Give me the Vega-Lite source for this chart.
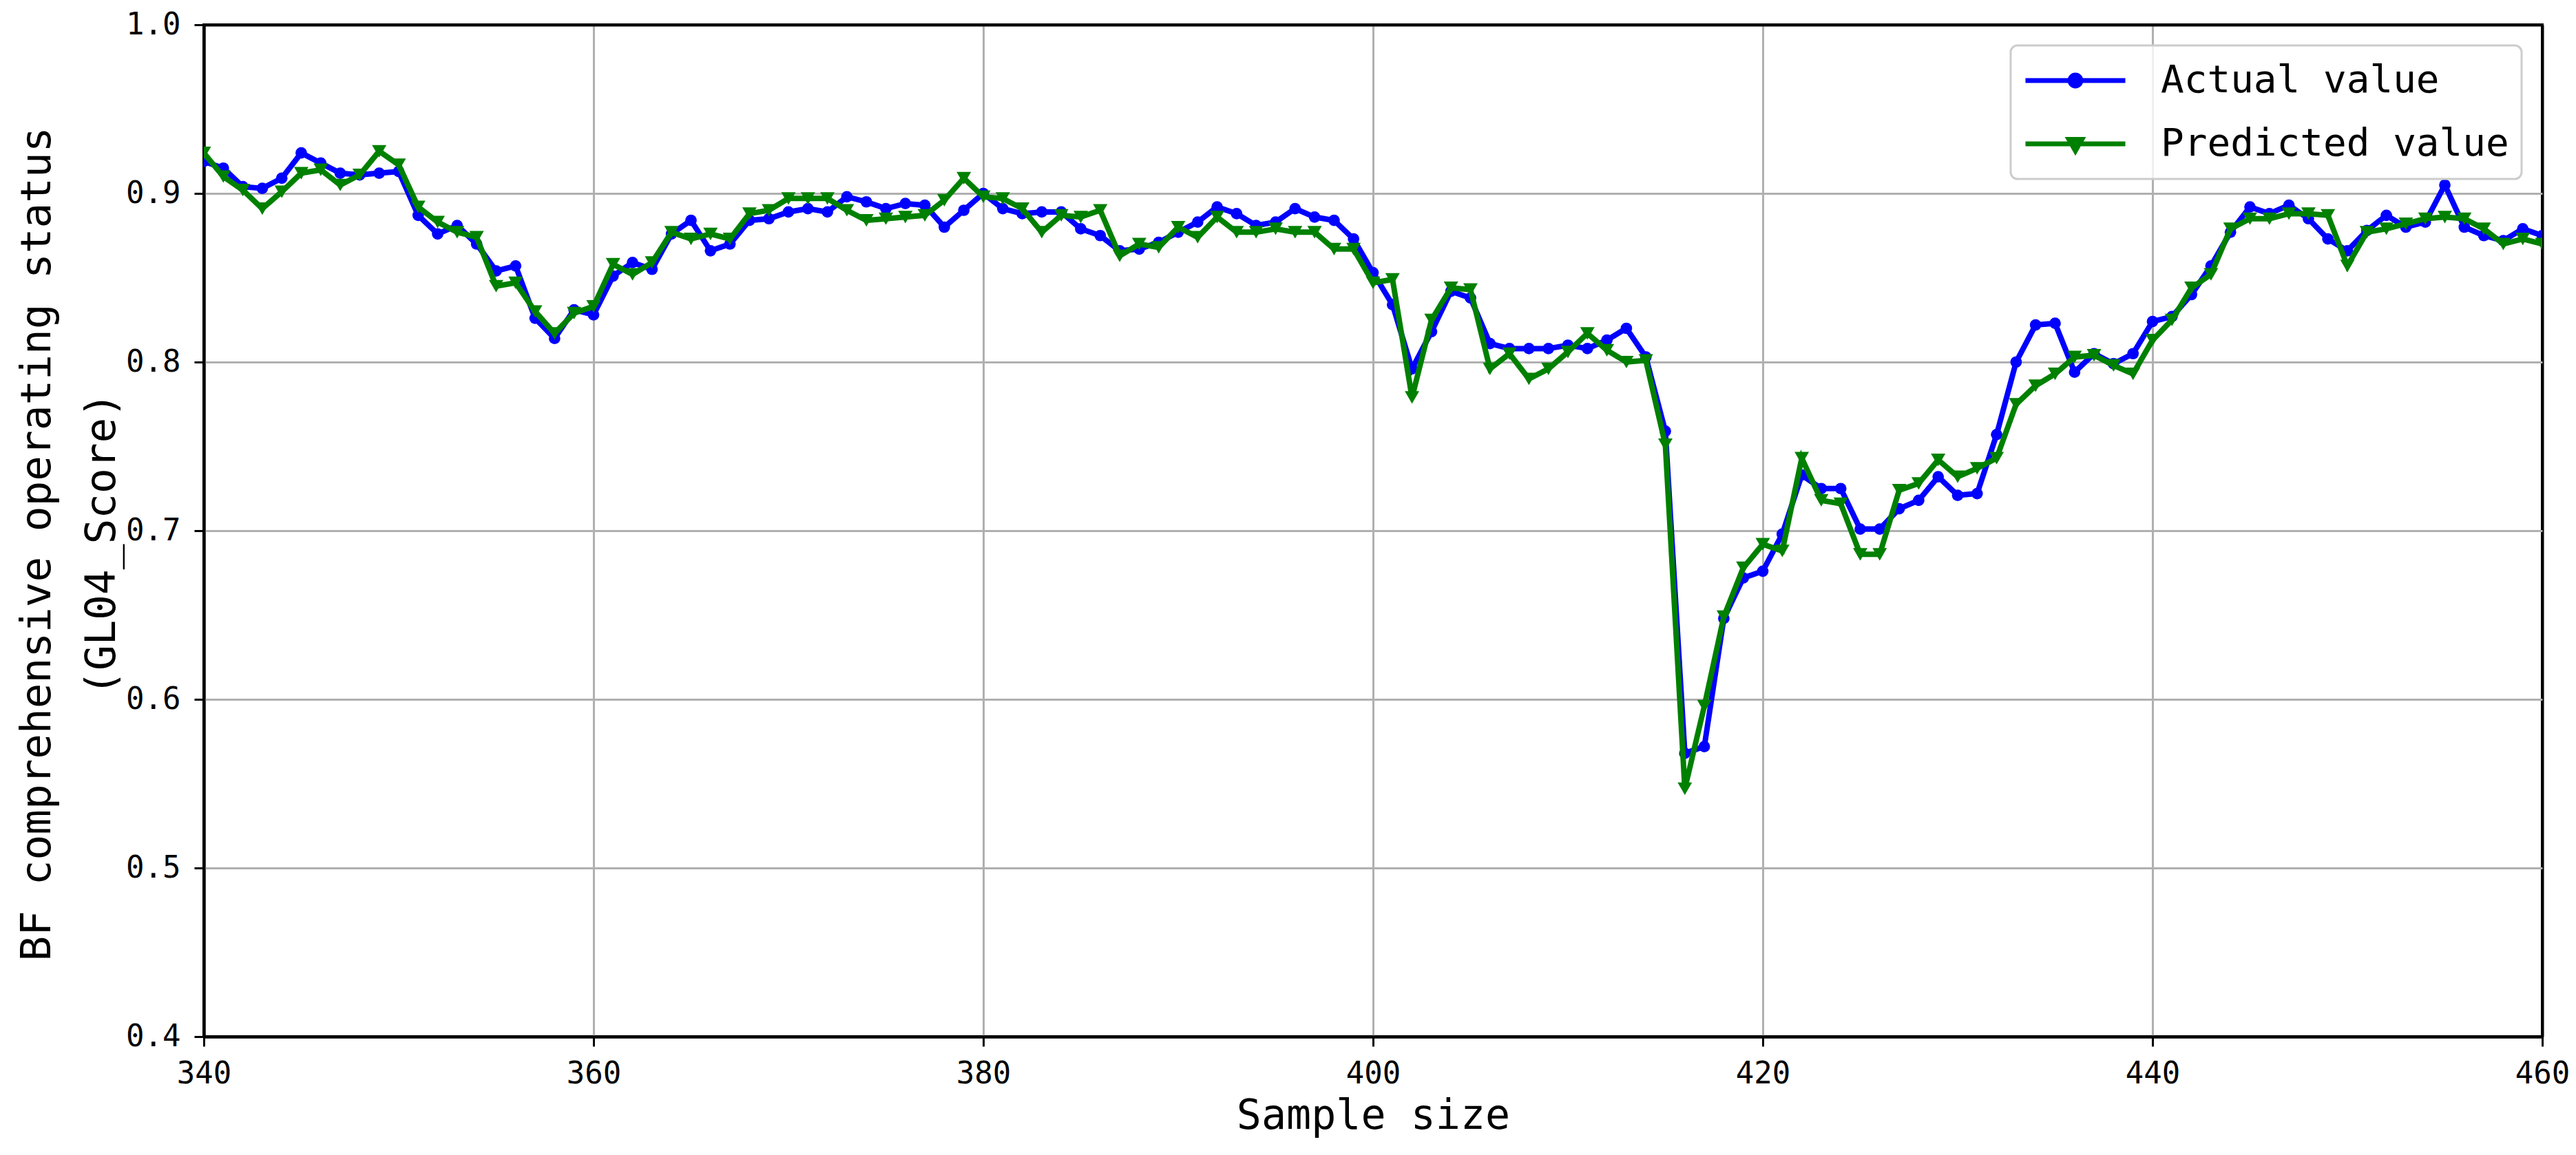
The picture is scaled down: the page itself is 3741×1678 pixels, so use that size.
{
  "$schema": "https://vega.github.io/schema/vega-lite/v6.json",
  "autosize": "none",
  "width": 3396,
  "height": 1470,
  "padding": {"left": 296, "top": 36, "right": 49, "bottom": 172},
  "background": "white",
  "config": {
    "view": {"stroke": "black", "strokeWidth": 4},
    "axis": {
      "domainColor": "black", "domainWidth": 4,
      "tickColor": "black", "tickWidth": 3, "tickSize": 14,
      "gridColor": "#b0b0b0", "gridWidth": 3, "gridOpacity": 1,
      "labelFont": "DejaVu Sans Mono", "labelFontSize": 44, "labelColor": "black",
      "titleFont": "DejaVu Sans Mono", "titleFontSize": 60, "titleFontWeight": "normal", "titleColor": "black"
    },
    "legend": {
      "fillColor": "rgba(255,255,255,0.8)", "strokeColor": "#cccccc", "strokeWidth": 3, "cornerRadius": 10, "padding": 18
    }
  },
  "data": {"values": [
    {"n":340,"s":"Actual value","v":0.919},{"n":341,"s":"Actual value","v":0.915},{"n":342,"s":"Actual value","v":0.904},{"n":343,"s":"Actual value","v":0.903},{"n":344,"s":"Actual value","v":0.909},{"n":345,"s":"Actual value","v":0.924},{"n":346,"s":"Actual value","v":0.918},{"n":347,"s":"Actual value","v":0.912},{"n":348,"s":"Actual value","v":0.911},{"n":349,"s":"Actual value","v":0.912},
    {"n":350,"s":"Actual value","v":0.913},{"n":351,"s":"Actual value","v":0.887},{"n":352,"s":"Actual value","v":0.876},{"n":353,"s":"Actual value","v":0.881},{"n":354,"s":"Actual value","v":0.870},{"n":355,"s":"Actual value","v":0.854},{"n":356,"s":"Actual value","v":0.857},{"n":357,"s":"Actual value","v":0.826},{"n":358,"s":"Actual value","v":0.814},{"n":359,"s":"Actual value","v":0.831},
    {"n":360,"s":"Actual value","v":0.828},{"n":361,"s":"Actual value","v":0.851},{"n":362,"s":"Actual value","v":0.859},{"n":363,"s":"Actual value","v":0.855},{"n":364,"s":"Actual value","v":0.876},{"n":365,"s":"Actual value","v":0.884},{"n":366,"s":"Actual value","v":0.866},{"n":367,"s":"Actual value","v":0.870},{"n":368,"s":"Actual value","v":0.884},{"n":369,"s":"Actual value","v":0.885},
    {"n":370,"s":"Actual value","v":0.889},{"n":371,"s":"Actual value","v":0.891},{"n":372,"s":"Actual value","v":0.889},{"n":373,"s":"Actual value","v":0.898},{"n":374,"s":"Actual value","v":0.895},{"n":375,"s":"Actual value","v":0.891},{"n":376,"s":"Actual value","v":0.894},{"n":377,"s":"Actual value","v":0.893},{"n":378,"s":"Actual value","v":0.880},{"n":379,"s":"Actual value","v":0.890},
    {"n":380,"s":"Actual value","v":0.900},{"n":381,"s":"Actual value","v":0.891},{"n":382,"s":"Actual value","v":0.888},{"n":383,"s":"Actual value","v":0.889},{"n":384,"s":"Actual value","v":0.889},{"n":385,"s":"Actual value","v":0.879},{"n":386,"s":"Actual value","v":0.875},{"n":387,"s":"Actual value","v":0.866},{"n":388,"s":"Actual value","v":0.867},{"n":389,"s":"Actual value","v":0.871},
    {"n":390,"s":"Actual value","v":0.877},{"n":391,"s":"Actual value","v":0.883},{"n":392,"s":"Actual value","v":0.892},{"n":393,"s":"Actual value","v":0.888},{"n":394,"s":"Actual value","v":0.881},{"n":395,"s":"Actual value","v":0.883},{"n":396,"s":"Actual value","v":0.891},{"n":397,"s":"Actual value","v":0.886},{"n":398,"s":"Actual value","v":0.884},{"n":399,"s":"Actual value","v":0.873},
    {"n":400,"s":"Actual value","v":0.853},{"n":401,"s":"Actual value","v":0.834},{"n":402,"s":"Actual value","v":0.796},{"n":403,"s":"Actual value","v":0.818},{"n":404,"s":"Actual value","v":0.842},{"n":405,"s":"Actual value","v":0.838},{"n":406,"s":"Actual value","v":0.811},{"n":407,"s":"Actual value","v":0.808},{"n":408,"s":"Actual value","v":0.808},{"n":409,"s":"Actual value","v":0.808},
    {"n":410,"s":"Actual value","v":0.810},{"n":411,"s":"Actual value","v":0.808},{"n":412,"s":"Actual value","v":0.813},{"n":413,"s":"Actual value","v":0.820},{"n":414,"s":"Actual value","v":0.803},{"n":415,"s":"Actual value","v":0.759},{"n":416,"s":"Actual value","v":0.568},{"n":417,"s":"Actual value","v":0.572},{"n":418,"s":"Actual value","v":0.648},{"n":419,"s":"Actual value","v":0.672},
    {"n":420,"s":"Actual value","v":0.676},{"n":421,"s":"Actual value","v":0.698},{"n":422,"s":"Actual value","v":0.733},{"n":423,"s":"Actual value","v":0.725},{"n":424,"s":"Actual value","v":0.725},{"n":425,"s":"Actual value","v":0.701},{"n":426,"s":"Actual value","v":0.701},{"n":427,"s":"Actual value","v":0.713},{"n":428,"s":"Actual value","v":0.718},{"n":429,"s":"Actual value","v":0.732},
    {"n":430,"s":"Actual value","v":0.721},{"n":431,"s":"Actual value","v":0.722},{"n":432,"s":"Actual value","v":0.757},{"n":433,"s":"Actual value","v":0.800},{"n":434,"s":"Actual value","v":0.822},{"n":435,"s":"Actual value","v":0.823},{"n":436,"s":"Actual value","v":0.794},{"n":437,"s":"Actual value","v":0.805},{"n":438,"s":"Actual value","v":0.799},{"n":439,"s":"Actual value","v":0.805},
    {"n":440,"s":"Actual value","v":0.824},{"n":441,"s":"Actual value","v":0.827},{"n":442,"s":"Actual value","v":0.840},{"n":443,"s":"Actual value","v":0.857},{"n":444,"s":"Actual value","v":0.877},{"n":445,"s":"Actual value","v":0.892},{"n":446,"s":"Actual value","v":0.888},{"n":447,"s":"Actual value","v":0.893},{"n":448,"s":"Actual value","v":0.885},{"n":449,"s":"Actual value","v":0.873},
    {"n":450,"s":"Actual value","v":0.866},{"n":451,"s":"Actual value","v":0.878},{"n":452,"s":"Actual value","v":0.887},{"n":453,"s":"Actual value","v":0.880},{"n":454,"s":"Actual value","v":0.883},{"n":455,"s":"Actual value","v":0.905},{"n":456,"s":"Actual value","v":0.880},{"n":457,"s":"Actual value","v":0.875},{"n":458,"s":"Actual value","v":0.872},{"n":459,"s":"Actual value","v":0.879},
    {"n":460,"s":"Actual value","v":0.875},
    {"n":340,"s":"Predicted value","v":0.924},{"n":341,"s":"Predicted value","v":0.910},{"n":342,"s":"Predicted value","v":0.902},{"n":343,"s":"Predicted value","v":0.891},{"n":344,"s":"Predicted value","v":0.901},{"n":345,"s":"Predicted value","v":0.912},{"n":346,"s":"Predicted value","v":0.914},{"n":347,"s":"Predicted value","v":0.905},{"n":348,"s":"Predicted value","v":0.911},{"n":349,"s":"Predicted value","v":0.925},
    {"n":350,"s":"Predicted value","v":0.917},{"n":351,"s":"Predicted value","v":0.892},{"n":352,"s":"Predicted value","v":0.883},{"n":353,"s":"Predicted value","v":0.877},{"n":354,"s":"Predicted value","v":0.874},{"n":355,"s":"Predicted value","v":0.845},{"n":356,"s":"Predicted value","v":0.847},{"n":357,"s":"Predicted value","v":0.830},{"n":358,"s":"Predicted value","v":0.817},{"n":359,"s":"Predicted value","v":0.829},
    {"n":360,"s":"Predicted value","v":0.833},{"n":361,"s":"Predicted value","v":0.858},{"n":362,"s":"Predicted value","v":0.852},{"n":363,"s":"Predicted value","v":0.859},{"n":364,"s":"Predicted value","v":0.877},{"n":365,"s":"Predicted value","v":0.873},{"n":366,"s":"Predicted value","v":0.876},{"n":367,"s":"Predicted value","v":0.873},{"n":368,"s":"Predicted value","v":0.888},{"n":369,"s":"Predicted value","v":0.890},
    {"n":370,"s":"Predicted value","v":0.897},{"n":371,"s":"Predicted value","v":0.897},{"n":372,"s":"Predicted value","v":0.897},{"n":373,"s":"Predicted value","v":0.890},{"n":374,"s":"Predicted value","v":0.884},{"n":375,"s":"Predicted value","v":0.885},{"n":376,"s":"Predicted value","v":0.886},{"n":377,"s":"Predicted value","v":0.887},{"n":378,"s":"Predicted value","v":0.896},{"n":379,"s":"Predicted value","v":0.909},
    {"n":380,"s":"Predicted value","v":0.898},{"n":381,"s":"Predicted value","v":0.897},{"n":382,"s":"Predicted value","v":0.891},{"n":383,"s":"Predicted value","v":0.877},{"n":384,"s":"Predicted value","v":0.887},{"n":385,"s":"Predicted value","v":0.886},{"n":386,"s":"Predicted value","v":0.890},{"n":387,"s":"Predicted value","v":0.863},{"n":388,"s":"Predicted value","v":0.870},{"n":389,"s":"Predicted value","v":0.868},
    {"n":390,"s":"Predicted value","v":0.880},{"n":391,"s":"Predicted value","v":0.874},{"n":392,"s":"Predicted value","v":0.886},{"n":393,"s":"Predicted value","v":0.877},{"n":394,"s":"Predicted value","v":0.877},{"n":395,"s":"Predicted value","v":0.879},{"n":396,"s":"Predicted value","v":0.877},{"n":397,"s":"Predicted value","v":0.877},{"n":398,"s":"Predicted value","v":0.867},{"n":399,"s":"Predicted value","v":0.867},
    {"n":400,"s":"Predicted value","v":0.847},{"n":401,"s":"Predicted value","v":0.849},{"n":402,"s":"Predicted value","v":0.779},{"n":403,"s":"Predicted value","v":0.825},{"n":404,"s":"Predicted value","v":0.844},{"n":405,"s":"Predicted value","v":0.843},{"n":406,"s":"Predicted value","v":0.796},{"n":407,"s":"Predicted value","v":0.805},{"n":408,"s":"Predicted value","v":0.790},{"n":409,"s":"Predicted value","v":0.796},
    {"n":410,"s":"Predicted value","v":0.806},{"n":411,"s":"Predicted value","v":0.817},{"n":412,"s":"Predicted value","v":0.807},{"n":413,"s":"Predicted value","v":0.800},{"n":414,"s":"Predicted value","v":0.801},{"n":415,"s":"Predicted value","v":0.751},{"n":416,"s":"Predicted value","v":0.547},{"n":417,"s":"Predicted value","v":0.596},{"n":418,"s":"Predicted value","v":0.649},{"n":419,"s":"Predicted value","v":0.678},
    {"n":420,"s":"Predicted value","v":0.692},{"n":421,"s":"Predicted value","v":0.688},{"n":422,"s":"Predicted value","v":0.743},{"n":423,"s":"Predicted value","v":0.718},{"n":424,"s":"Predicted value","v":0.716},{"n":425,"s":"Predicted value","v":0.686},{"n":426,"s":"Predicted value","v":0.686},{"n":427,"s":"Predicted value","v":0.724},{"n":428,"s":"Predicted value","v":0.728},{"n":429,"s":"Predicted value","v":0.742},
    {"n":430,"s":"Predicted value","v":0.732},{"n":431,"s":"Predicted value","v":0.737},{"n":432,"s":"Predicted value","v":0.743},{"n":433,"s":"Predicted value","v":0.775},{"n":434,"s":"Predicted value","v":0.786},{"n":435,"s":"Predicted value","v":0.793},{"n":436,"s":"Predicted value","v":0.803},{"n":437,"s":"Predicted value","v":0.804},{"n":438,"s":"Predicted value","v":0.798},{"n":439,"s":"Predicted value","v":0.793},
    {"n":440,"s":"Predicted value","v":0.813},{"n":441,"s":"Predicted value","v":0.825},{"n":442,"s":"Predicted value","v":0.844},{"n":443,"s":"Predicted value","v":0.852},{"n":444,"s":"Predicted value","v":0.879},{"n":445,"s":"Predicted value","v":0.885},{"n":446,"s":"Predicted value","v":0.885},{"n":447,"s":"Predicted value","v":0.888},{"n":448,"s":"Predicted value","v":0.888},{"n":449,"s":"Predicted value","v":0.887},
    {"n":450,"s":"Predicted value","v":0.857},{"n":451,"s":"Predicted value","v":0.877},{"n":452,"s":"Predicted value","v":0.879},{"n":453,"s":"Predicted value","v":0.882},{"n":454,"s":"Predicted value","v":0.885},{"n":455,"s":"Predicted value","v":0.886},{"n":456,"s":"Predicted value","v":0.885},{"n":457,"s":"Predicted value","v":0.879},{"n":458,"s":"Predicted value","v":0.870},{"n":459,"s":"Predicted value","v":0.873},
    {"n":460,"s":"Predicted value","v":0.870}
  ]},
  "encoding": {
    "x": {"field": "n", "type": "quantitative", "title": "Sample size",
      "scale": {"domain": [340, 460], "nice": false, "zero": false},
      "axis": {"values": [340, 360, 380, 400, 420, 440, 460], "labelPadding": 18, "titlePadding": 10, "labelFlush": false,
        "gridColor": {"condition": {"test": "datum.value === 340 || datum.value === 460", "value": "black"}, "value": "#b0b0b0"},
        "gridWidth": {"condition": {"test": "datum.value === 340 || datum.value === 460", "value": 4}, "value": 3}}},
    "y": {"field": "v", "type": "quantitative", "title": ["BF comprehensive operating status", "(GL04_Score)"],
      "scale": {"domain": [0.4, 1.0], "nice": false, "zero": false},
      "axis": {"values": [0.4, 0.5, 0.6, 0.7, 0.8, 0.9, 1.0], "format": ".1f", "labelPadding": 20, "titlePadding": 3, "titleLineHeight": 94, "titleFontSize": 61, "titleY": 754, "labelFlush": false,
        "gridColor": {"condition": {"test": "datum.value <= 0.401 || datum.value >= 0.999", "value": "black"}, "value": "#b0b0b0"},
        "gridWidth": {"condition": {"test": "datum.value <= 0.401 || datum.value >= 0.999", "value": 4}, "value": 3}}},
    "color": {"field": "s", "type": "nominal",
      "scale": {"domain": ["Actual value", "Predicted value"], "range": ["#0000ff", "#008000"]},
      "legend": {
        "title": null, "orient": "top-right", "offset": 30,
        "labelFont": "DejaVu Sans Mono", "labelFontSize": 56, "labelColor": "black", "labelOffset": 48, "labelLimit": 2000,
        "symbolSize": 21025, "symbolStrokeWidth": 7, "rowPadding": 26, "clipHeight": 66,
        "encode": {"symbols": {"update": {
          "shape": {"signal": "datum.value === 'Actual value' ? 'M-1,0H1M0.11,0A0.11,0.11,0,1,1,-0.11,0A0.11,0.11,0,1,1,0.11,0Z' : 'M-1,0H1M-0.13,-0.09L0.13,-0.09L0,0.14Z'"},
          "fill": {"signal": "datum.value === 'Actual value' ? '#0000ff' : '#008000'"},
          "stroke": {"signal": "datum.value === 'Actual value' ? '#0000ff' : '#008000'"},
          "opacity": {"value": 1},
          "fillOpacity": {"value": 1},
          "strokeOpacity": {"value": 1}
        }}}
      }}
  },
  "layer": [
    {"transform": [{"filter": "datum.s === 'Actual value'"}],
     "mark": {"type": "line", "strokeWidth": 8, "clip": true}},
    {"transform": [{"filter": "datum.s === 'Actual value'"}],
     "mark": {"type": "point", "filled": true, "size": 280, "opacity": 1, "clip": true, "shape": "circle"}},
    {"transform": [{"filter": "datum.s === 'Predicted value'"}],
     "mark": {"type": "line", "strokeWidth": 8, "clip": true}},
    {"transform": [{"filter": "datum.s === 'Predicted value'"}],
     "mark": {"type": "point", "filled": true, "size": 440, "opacity": 1, "clip": true, "shape": "triangle-down"}}
  ]
}
